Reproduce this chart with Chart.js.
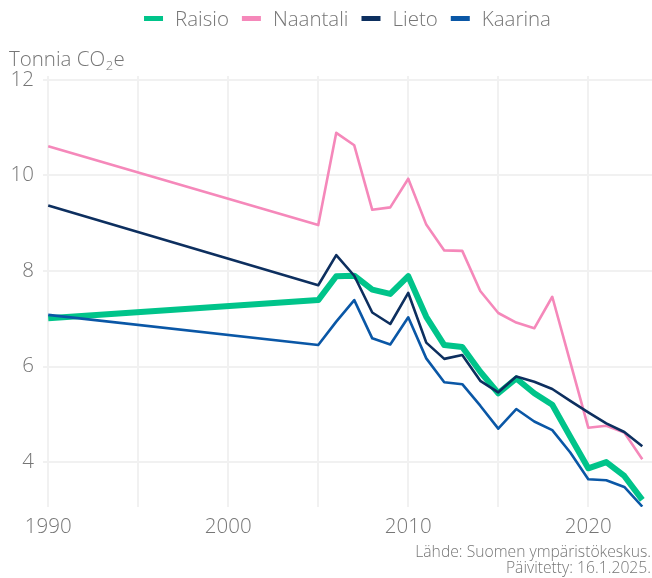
<!DOCTYPE html>
<html lang="fi">
<head>
<meta charset="utf-8">
<script src="https://cdn.jsdelivr.net/npm/chart.js@4.4.1/dist/chart.umd.min.js"></script>
<style>
    html, body { margin: 0; padding: 0; background: #fff; }
    #wrap { width: 652px; height: 578px; }
</style>
</head>
<body>
<div id="wrap"><canvas id="emissionChart" width="652" height="578"></canvas></div>
<script>
    const years = [1990, 2005, 2006, 2007, 2008, 2009, 2010, 2011, 2012, 2013, 2014, 2015, 2016, 2017, 2018, 2019, 2020, 2021, 2022, 2023];
    const raisio = [7.01, 7.39, 7.89, 7.90, 7.61, 7.52, 7.89, 7.04, 6.45, 6.41, 5.89, 5.44, 5.75, 5.44, 5.20, 4.53, 3.87, 4.00, 3.71, 3.21];
    const naantali = [10.61, 8.96, 10.89, 10.63, 9.28, 9.33, 9.93, 8.97, 8.43, 8.42, 7.58, 7.12, 6.92, 6.80, 7.46, 6.09, 4.72, 4.76, 4.62, 4.06];
    const lieto = [9.37, 7.70, 8.33, 7.90, 7.13, 6.89, 7.54, 6.50, 6.16, 6.24, 5.70, 5.46, 5.79, 5.68, 5.53, 5.28, 5.04, 4.81, 4.63, 4.33];
    const kaarina = [7.08, 6.45, 6.94, 7.39, 6.59, 6.46, 7.03, 6.17, 5.67, 5.63, 5.18, 4.70, 5.11, 4.85, 4.67, 4.20, 3.64, 3.62, 3.48, 3.07];

    const xTicks = [1990, 1995, 2000, 2005, 2010, 2015, 2020];
    const yTicks = [4, 6, 8, 10, 12];
    const sourceLines = ['Lähde: Suomen ympäristökeskus.', 'Päivitetty: 16.1.2025.'];

    const FONT = "'Open Sans', 'Noto Sans', sans-serif";
    const TEXT_COLOR = '#767676';
    const GRID_COLOR = '#f1f1f1';

    function toPoints(values) {
        return values.map((v, i) => ({ x: years[i], y: v }));
    }

    function series(label, values, color, width, order) {
        return {
            label: label,
            data: toPoints(values),
            borderColor: color,
            backgroundColor: color,
            borderWidth: width,
            pointRadius: 0,
            tension: 0,
            borderJoinStyle: 'round',
            order: order
        };
    }

    // legend, y-axis title and source text are drawn by hand
    const decorations = {
        id: 'decorations',
        afterDraw(chart) {
            const ctx = chart.ctx;
            const area = chart.chartArea;
            ctx.save();
            ctx.fillStyle = TEXT_COLOR;
            ctx.textBaseline = 'alphabetic';

            // legend, centered above the plot area
            ctx.font = '300 20.5px ' + FONT;
            const boxW = 19, boxH = 5, gap = 12, itemGap = 13;
            const items = chart.data.datasets.map(ds => ({
                text: ds.label,
                color: ds.borderColor,
                w: ctx.measureText(ds.label).width
            }));
            const total = items.reduce((s, it) => s + boxW + gap + it.w, 0) + itemGap * (items.length - 1);
            let x = (area.left + area.right) / 2 - total / 2;
            items.forEach(it => {
                ctx.fillStyle = it.color;
                ctx.fillRect(x, 16, boxW, boxH);
                ctx.fillStyle = TEXT_COLOR;
                ctx.textAlign = 'left';
                ctx.fillText(it.text, x + boxW + gap, 26);
                x += boxW + gap + it.w + itemGap;
            });

            // y-axis title with subscript
            ctx.textAlign = 'left';
            ctx.font = '300 20.5px ' + FONT;
            let tx = 9;
            ctx.fillText('Tonnia CO', tx, 66);
            tx += ctx.measureText('Tonnia CO').width + 0.5;
            ctx.font = '300 13px ' + FONT;
            ctx.fillText('2', tx, 70);
            tx += ctx.measureText('2').width + 0.5;
            ctx.font = '300 20.5px ' + FONT;
            ctx.fillText('e', tx, 66);

            // source
            ctx.font = '300 15.7px ' + FONT;
            ctx.textAlign = 'right';
            ctx.fillText(sourceLines[0], 651, 557);
            ctx.fillText(sourceLines[1], 651, 573);
            ctx.restore();
        }
    };

    document.addEventListener('DOMContentLoaded', function () {
        const ctx = document.getElementById('emissionChart');

        new Chart(ctx, {
            type: 'line',
            data: {
                datasets: [
                    series('Raisio', raisio, '#00c48a', 6, 3),
                    series('Naantali', naantali, '#f588ba', 2.6, 2),
                    series('Lieto', lieto, '#0d2f5f', 2.6, 1),
                    series('Kaarina', kaarina, '#0a57a6', 2.6, 0)
                ]
            },
            options: {
                responsive: false,
                animation: false,
                devicePixelRatio: 1,
                layout: { padding: { top: 76, left: 0, right: 0, bottom: 0 } },
                plugins: {
                    legend: { display: false },
                    tooltip: { enabled: false }
                },
                scales: {
                    x: {
                        type: 'linear',
                        min: 1989.71,
                        max: 2023.54,
                        afterBuildTicks: scale => { scale.ticks = xTicks.map(v => ({ value: v })); },
                        afterFit: scale => { scale.height = 71; },
                        grid: { color: GRID_COLOR, lineWidth: 2, drawTicks: false },
                        border: { display: false },
                        ticks: {
                            padding: 8,
                            color: TEXT_COLOR,
                            font: { family: FONT, size: 20.5, weight: '300' },
                            maxRotation: 0,
                            autoSkip: false,
                            callback: value => (value % 10 === 0 ? String(value) : '')
                        }
                    },
                    y: {
                        min: 3.06,
                        max: 12.08,
                        afterBuildTicks: scale => { scale.ticks = yTicks.map(v => ({ value: v })); },
                        afterFit: scale => { scale.width = 43; },
                        grid: { color: GRID_COLOR, lineWidth: 2, drawTicks: false },
                        border: { display: false },
                        ticks: {
                            padding: 9,
                            color: TEXT_COLOR,
                            font: { family: FONT, size: 20.5, weight: '300' }
                        }
                    }
                }
            },
            plugins: [decorations]
        });
    });
</script>
</body>
</html>
